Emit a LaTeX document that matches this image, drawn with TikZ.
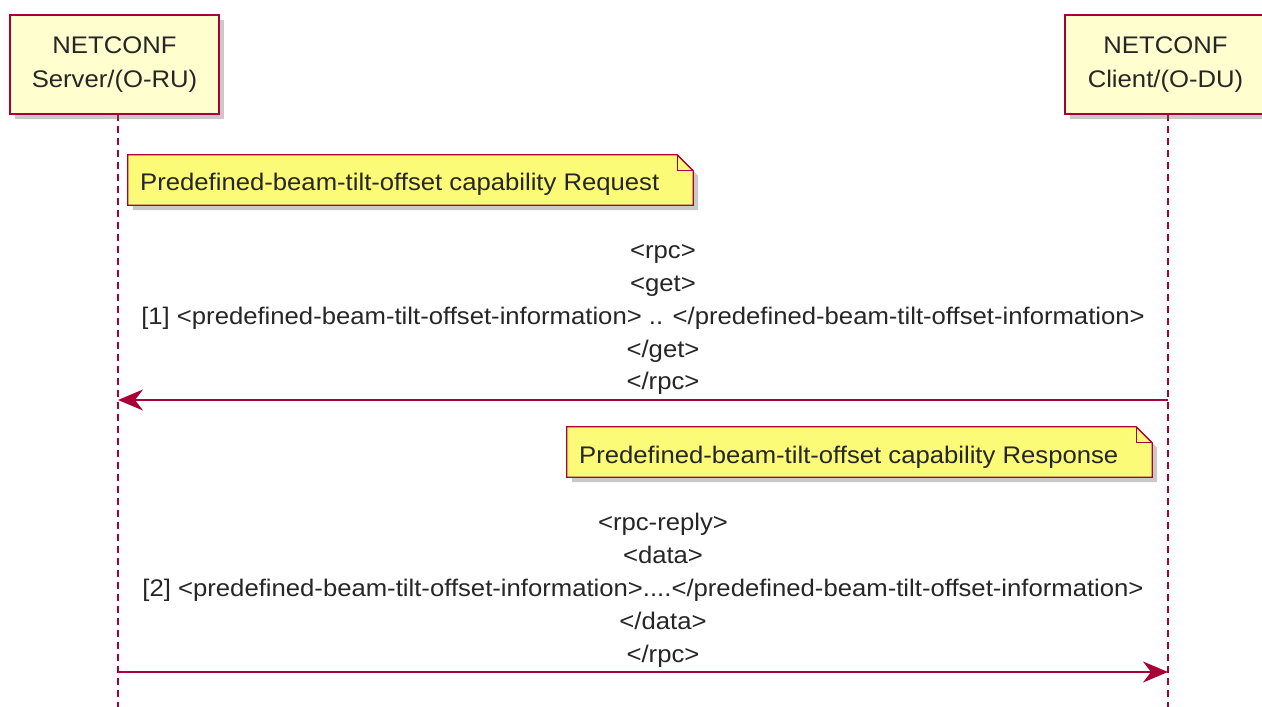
\documentclass[tikz,border=0pt]{standalone}
\usepackage{fontspec}
\setmainfont{Liberation Sans}[FakeStretch=1.07]
\usetikzlibrary{arrows.meta,shadows}
\definecolor{puborder}{HTML}{A80036}
\definecolor{pufill}{HTML}{FEFECE}
\definecolor{notefill}{HTML}{FBFB77}
\newcommand\drawnotebox[1]{%
  \fill[black!60, opacity=0.35]
    ([shift={(5pt,-5pt)}]#1.north west) -- ([shift={(-11pt,-5pt)}]#1.north east)
    -- ([shift={(5pt,-21pt)}]#1.north east) -- ([shift={(5pt,-5pt)}]#1.south east)
    -- ([shift={(5pt,-5pt)}]#1.south west) -- cycle;
  \filldraw[draw=puborder, fill=notefill, line width=1.3pt, line join=miter]
    (#1.north west) -- ([xshift=-16pt]#1.north east) -- ([yshift=-16pt]#1.north east)
    -- (#1.south east) -- (#1.south west) -- cycle;
  \draw[draw=puborder, line width=1.3pt]
    ([xshift=-16pt]#1.north east) -- ([shift={(-16pt,-16pt)}]#1.north east) -- ([yshift=-16pt]#1.north east);
}
\begin{document}
\begin{tikzpicture}[x=1pt,y=-1pt,
  part/.style={draw=puborder, line width=1.8pt, fill=pufill, align=center,
    font=\fontsize{24}{34}\selectfont, inner sep=0pt,
    drop shadow={shadow xshift=5pt, shadow yshift=-5pt, opacity=0.35, fill=black!60}},
  lifeline/.style={draw=puborder, line width=1.5pt, dash pattern=on 7pt off 5pt},
  msg/.style={draw=puborder, line width=1.6pt, -{Stealth[length=25pt, width=21pt, inset=8pt]}},
  msgtext/.style={font=\fontsize{24}{26}\selectfont, anchor=base, inner sep=0pt, text=black!85}
]
\useasboundingbox (0,0) rectangle (1262,707);
\fill[white] (0,0) rectangle (1262,707);

% lifelines
\coordinate (stop) at (118,114);
\coordinate (sbot) at (118,707);
\coordinate (ctop) at (1168,114);
\coordinate (cbot) at (1168,707);
\draw[lifeline] (stop) -- (sbot);
\draw[lifeline] (ctop) -- (cbot);

% participants
\node[part, minimum width=209pt, minimum height=99pt, text=black!85] (server) at (114.5,64.5) {NETCONF\\Server/(O-RU)};
\node[part, minimum width=201pt, minimum height=99pt, text=black!85] (client) at (1165.5,64.5) {NETCONF\\Client/(O-DU)};

% note 1
\node[minimum width=565pt, minimum height=50pt, inner sep=0pt] (note1) at (410.5,180) {};
\drawnotebox{note1}
\node[msgtext, anchor=base west] (note1t) at (140,190) {Predefined-beam-tilt-offset capability Request};

% message 1
\node[msgtext] (m1a) at (663,258) {<rpc>};
\node[msgtext] (m1b) at (663,291) {<get>};
\node[msgtext] (m1c) at (643,324) {[1] <predefined-beam-tilt-offset-information> .. </predefined-beam-tilt-offset-information>};
\node[msgtext] (m1d) at (663,357) {</get>};
\node[msgtext] (m1e) at (663,389) {</rpc>};
\coordinate (c1) at (1168,400);
\coordinate (s1) at (118,400);
\draw[msg] (c1) -- (s1);

% note 2
\node[minimum width=585pt, minimum height=50pt, inner sep=0pt] (note2) at (859.5,452) {};
\drawnotebox{note2}
\node[msgtext, anchor=base west] (note2t) at (579,463) {Predefined-beam-tilt-offset capability Response};

% message 2
\node[msgtext] (m2a) at (663,530) {<rpc-reply>};
\node[msgtext] (m2b) at (663,563) {<data>};
\node[msgtext] (m2c) at (643,596) {[2] <predefined-beam-tilt-offset-information>....</predefined-beam-tilt-offset-information>};
\node[msgtext] (m2d) at (663,629) {</data>};
\node[msgtext] (m2e) at (663,662) {</rpc>};
\coordinate (s2) at (118,672);
\coordinate (c2) at (1168,672);
\draw[msg] (s2) -- (c2);
\end{tikzpicture}
\end{document}
